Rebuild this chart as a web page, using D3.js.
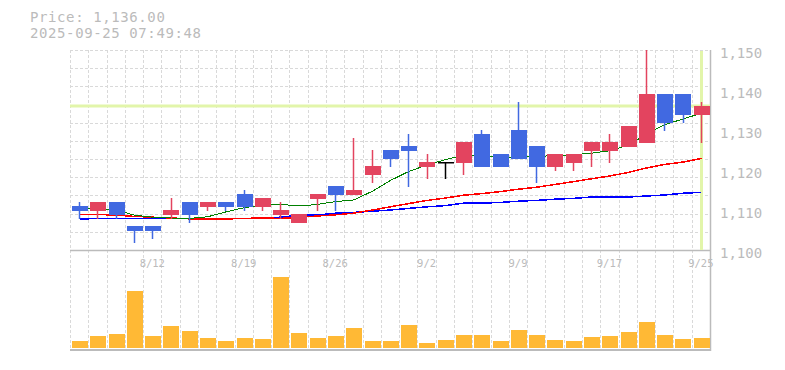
<!DOCTYPE html>
<html>
<head>
<meta charset="utf-8">
<script src="https://cdnjs.cloudflare.com/ajax/libs/d3/7.8.5/d3.min.js"></script>
<style>
  body { margin: 0; background: #fff; }
  text { font-family: "DejaVu Sans Mono", "Liberation Mono", monospace; fill: #bbb; }
</style>
</head>
<body>
<div id="chart"></div>
<script>
const dates = ["8/6","8/7","8/8","8/11","8/12","8/13","8/14","8/15","8/18","8/19","8/20","8/21","8/22",
  "8/25","8/26","8/27","8/28","8/29","9/1","9/2","9/3","9/4","9/5","9/8","9/9","9/10","9/11","9/12",
  "9/16","9/17","9/18","9/19","9/22","9/24","9/25"];
const tickLabels = ["8/12","8/19","8/26","9/2","9/9","9/17","9/25"];

const open  = [1111,1110,1112,1106,1106,1109,1112,1111,1112,1114,1111,1109,1107,1113,1116,1114,1119,1125,
  1126,1121,1122,1122,1129,1124,1130,1126,1121,1122,1125,1125,1126,1127,1139,1139,1134];
const high  = [1112,1112,1112,1106,1106,1113,1112,1112,1112,1115,1113,1112,1109,1114,1116,1128,1125,1125,
  1129,1124,1122,1127,1130,1124,1137,1126,1124,1124,1127,1129,1131,1150,1139,1139,1137];
const low   = [1108,1108,1108,1102,1103,1108,1107,1110,1110,1110,1110,1108,1107,1110,1110,1114,1117,1121,
  1116,1118,1118,1119,1121,1121,1123,1117,1120,1120,1121,1122,1126,1127,1130,1132,1127];
const close = [1110,1112,1109,1105,1105,1110,1109,1112,1111,1111,1113,1110,1109,1114,1114,1115,1121,1123,
  1125,1122,1122,1127,1121,1121,1123,1121,1124,1124,1127,1127,1131,1139,1132,1134,1136];

const ma5  = [1110.5,1110.4,1110,1108.7,1108.2,1108,1107.9,1108.3,1109.5,1110.6,1111.2,1111.4,1111,1111.4,
  1112.1,1112.5,1114.7,1117.4,1119.6,1121.3,1122.6,1123.7,1123.6,1123,1123.2,1123.4,1123.6,1123.8,1124.2,
  1124.8,1126.2,1129,1131.3,1132.8,1134.2];
const ma25 = [1108.9,1108.9,1108.7,1108.4,1108.2,1108,1107.8,1107.75,1107.75,1107.9,1108,1107.9,1108.2,
  1108.5,1108.8,1109.2,1110,1110.8,1111.6,1112.4,1113,1113.7,1114.1,1114.6,1115.2,1115.7,1116.4,1117.1,
  1117.8,1118.5,1119.4,1120.5,1121.4,1122,1122.9];
const ma75 = [1107.7,1107.9,1107.9,1107.9,1107.9,1107.9,1107.9,1107.9,1107.9,1107.9,1108,1108.2,1108.75,
  1108.75,1109.2,1109.4,1109.7,1110,1110.4,1110.8,1111.1,1111.7,1111.7,1111.9,1112.2,1112.4,1112.7,
  1112.9,1113.25,1113.25,1113.25,1113.5,1113.75,1114.2,1114.4];

const volume = [700,1200,1400,5700,1200,2200,1700,1000,700,1000,900,7100,1500,1000,1200,2000,700,700,
  2300,500,800,1300,1300,700,1800,1300,800,700,1100,1200,1600,2600,1300,900,1000];

const yTicks = [1100,1110,1120,1130,1140,1150];
const currentPrice = 1136;
const stamp = "2025-09-25 07:49:48";

const width = 785, height = 370;
const m = { left: 70, right: 710, top: 50, bottom: 250, vol: 349 };

const svg = d3.select("#chart").append("svg")
  .attr("width", width).attr("height", height);

const x = d3.scaleBand().domain(d3.range(dates.length)).range([m.left, m.right]).padding(0);
const y = d3.scaleLinear().domain([1100, 1150]).range([m.bottom, m.top]);
const yVol = d3.scaleLinear().domain([0, d3.max(volume)]).range([348, 277]);
const cx = i => Math.round(x(i) + x.bandwidth() / 2) + 0.5;

// grid
const grid = svg.append("g")
  .attr("stroke", "#d9d9d9").attr("stroke-dasharray", "3,2").attr("shape-rendering", "crispEdges");
grid.selectAll("line.h").data(d3.range(11)).join("line")
  .attr("x1", m.left).attr("x2", m.right)
  .attr("y1", k => Math.round(m.top + k * (m.bottom - m.top) / 11) + 0.5)
  .attr("y2", k => Math.round(m.top + k * (m.bottom - m.top) / 11) + 0.5);
grid.selectAll("line.v").data(d3.range(dates.length)).join("line")
  .attr("x1", i => Math.round(x(i)) + 0.5).attr("x2", i => Math.round(x(i)) + 0.5)
  .attr("y1", m.top).attr("y2", m.vol);

// frame
svg.append("line").attr("x1", m.left).attr("x2", m.right + 1).attr("y1", m.bottom + 0.5).attr("y2", m.bottom + 0.5)
  .attr("stroke", "#bbb").attr("stroke-width", 1.5);
svg.append("line").attr("x1", m.left).attr("x2", m.right + 1).attr("y1", m.vol + 1).attr("y2", m.vol + 1)
  .attr("stroke", "#bbb").attr("stroke-width", 2);
svg.append("line").attr("x1", m.right + 0.5).attr("x2", m.right + 0.5).attr("y1", m.top).attr("y2", m.vol + 2)
  .attr("stroke", "#bbb").attr("stroke-width", 1.5);

// current price markers
const last = dates.length - 1;
svg.append("line").attr("x1", m.left).attr("x2", m.right)
  .attr("y1", y(currentPrice)).attr("y2", y(currentPrice))
  .attr("stroke", "#e2f5aa").attr("stroke-width", 3);
svg.append("line").attr("x1", cx(last)).attr("x2", cx(last))
  .attr("y1", m.top + 1).attr("y2", m.bottom)
  .attr("stroke", "#e2f5aa").attr("stroke-width", 3);

// moving averages
const line = d3.line().x((d, i) => cx(i)).y(d => y(d));
[[ma75, "#0000ff", 1.5], [ma25, "#ff0000", 1.5], [ma5, "#008000", 1]].forEach(([s, c, w]) => {
  svg.append("path").datum(s).attr("d", line)
    .attr("fill", "none").attr("stroke", c).attr("stroke-width", w)
    .attr("shape-rendering", "crispEdges");
});

// candles
const up = "#e3445f", down = "#4169e1";
const color = i => close[i] > open[i] ? up : close[i] < open[i] ? down : "#000";
const candles = svg.append("g").selectAll("g").data(d3.range(dates.length)).join("g");
candles.append("line")
  .attr("x1", cx).attr("x2", cx)
  .attr("y1", i => Math.max(m.top, y(high[i]))).attr("y2", i => y(low[i]) + 1)
  .attr("stroke", color).attr("stroke-width", 1.5);
candles.append("rect")
  .attr("x", i => Math.round(x(i)) + 2)
  .attr("width", 16)
  .attr("y", i => y(Math.max(open[i], close[i])))
  .attr("height", i => Math.max(1.5, Math.abs(y(open[i]) - y(close[i])) + 1))
  .attr("fill", color);

// volume
svg.append("g").selectAll("rect").data(volume).join("rect")
  .attr("x", (d, i) => Math.round(x(i)) + 2)
  .attr("width", 16)
  .attr("y", d => yVol(d))
  .attr("height", d => yVol(0) - yVol(d))
  .attr("fill", "#ffb935");

// axes
const yAxis = d3.axisRight(y).tickValues(yTicks).tickFormat(d3.format(",")).tickSize(0).tickPadding(10);
svg.append("g").attr("transform", `translate(${m.right},3)`).call(yAxis)
  .call(g => g.select(".domain").remove())
  .selectAll("text").style("font-size", "14px").attr("fill", "#bbb")
  .style("font-family", '"DejaVu Sans Mono", monospace');

const xAxis = d3.axisBottom(x)
  .tickValues(d3.range(dates.length).filter(i => tickLabels.includes(dates[i])))
  .tickFormat(i => dates[i]).tickSize(0).tickPadding(9.5);
svg.append("g").attr("transform", `translate(0,${m.bottom})`).call(xAxis)
  .call(g => g.select(".domain").remove())
  .selectAll("text").style("font-size", "10.5px").attr("fill", "#bbb")
  .style("font-family", '"DejaVu Sans Mono", monospace');

// header
const header = svg.append("g").style("font-size", "14px").style("letter-spacing", "0.6px");
header.append("text").attr("x", 30).attr("y", 22)
  .text("Price: " + d3.format(",.2f")(currentPrice));
header.append("text").attr("x", 30).attr("y", 38).text(stamp);
</script>
</body>
</html>
